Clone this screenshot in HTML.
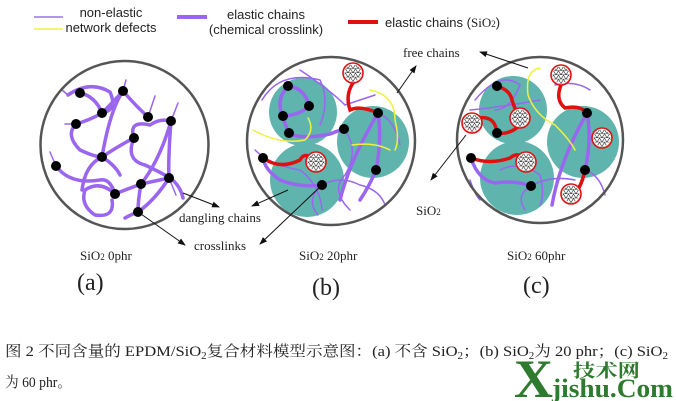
<!DOCTYPE html>
<html><head><meta charset="utf-8"><style>
html,body{margin:0;padding:0;background:#fff;}
svg{display:block;}
</style></head><body>
<svg width="676" height="401" viewBox="0 0 676 401" xmlns="http://www.w3.org/2000/svg">
<defs>
<marker id="ah" markerWidth="8" markerHeight="6" refX="7" refY="3" orient="auto" markerUnits="userSpaceOnUse"><path d="M0,0 L8,3 L0,6 z" fill="#111"/></marker>
<pattern id="tri" width="5" height="4.3" patternUnits="userSpaceOnUse"><path d="M0,4.3 L2.5,0 L5,4.3 M0,4.3 L5,4.3" stroke="#222" stroke-width="0.6" fill="none"/></pattern>
<g id="sil"><circle r="10" fill="#fff" stroke="#d11" stroke-width="1.6"/><circle r="8.5" fill="url(#tri)"/></g>
</defs>
<!-- legend -->
<g font-family="Liberation Sans, sans-serif" font-size="13" fill="#222">
<line x1="34" y1="17" x2="63" y2="17" stroke="#9a70ee" stroke-width="1.5"/>
<line x1="34" y1="29" x2="63" y2="29" stroke="#f0f040" stroke-width="1.5"/>
<text x="111" y="17" text-anchor="middle">non-elastic</text>
<text x="111" y="32" text-anchor="middle">network defects</text>
<line x1="177" y1="17" x2="207" y2="17" stroke="#9a66f0" stroke-width="4"/>
<text x="266" y="19" text-anchor="middle">elastic chains</text>
<text x="266" y="34" text-anchor="middle">(chemical crosslink)</text>
<line x1="348" y1="22" x2="378" y2="22" stroke="#e01010" stroke-width="4"/>
<text x="385" y="27">elastic chains (<tspan font-family="Liberation Serif, serif">SiO</tspan><tspan font-family="Liberation Serif, serif" font-size="9">2</tspan>)</text>
</g>
<!-- circle a -->
<g fill="none" stroke="#9a66f0" stroke-linecap="round">
<g stroke-width="3.5">
<path d="M68,95 Q90,80 110,92 Q118,110 102,113 Q90,120 76,124 Q65,135 80,150 Q95,157 102,157 Q120,145 134,138 Q128,120 150,125 Q160,118 171,121 Q160,160 141,184 Q125,190 115,194 Q100,180 85,190 Q80,205 95,215 Q115,218 112,200"/>
<path d="M56,166 Q70,185 100,180 Q110,178 115,194"/>
<path d="M80,93 Q95,96 102,113 Q115,100 123,91 Q135,105 148,117"/>
<path d="M123,91 Q110,110 102,157 Q85,165 82,190"/>
<path d="M171,121 Q168,160 169,178 Q155,200 138,212 Q130,215 125,218"/>
<path d="M141,184 Q138,200 138,212"/>
<path d="M141,184 Q160,180 169,178"/>
<path d="M134,138 Q125,160 145,165 Q160,172 170,178 Q180,185 183,198"/>
<path d="M102,157 Q115,165 120,175"/>
</g>
<g stroke-width="1.5"><path d="M68,95 L62,90 M123,91 L126,80 M148,117 L155,96 M171,121 L178,103 M56,166 L50,152 M76,124 L65,124 M169,178 L176,195"/></g>
</g>
<g fill="#000"><circle cx="80" cy="93" r="5"/><circle cx="123" cy="91" r="5"/><circle cx="102" cy="113" r="5"/><circle cx="76" cy="124" r="5"/><circle cx="148" cy="117" r="5"/><circle cx="171" cy="121" r="5"/><circle cx="134" cy="138" r="5"/><circle cx="102" cy="157" r="5"/><circle cx="56" cy="166" r="5"/><circle cx="169" cy="178" r="5"/><circle cx="141" cy="184" r="5"/><circle cx="115" cy="194" r="5"/><circle cx="138" cy="212" r="5"/></g>
<circle cx="124.5" cy="145" r="84" fill="none" stroke="#555" stroke-width="2.5"/>
<!-- circle b -->
<g fill="#5fb5ad"><circle cx="303" cy="112" r="34"/><circle cx="373" cy="142" r="36"/><circle cx="307" cy="180" r="37"/></g>
<g fill="none" stroke-linecap="round">
<g stroke="#9a66f0" stroke-width="3.5"><path d="M288,86 Q275,100 283,116 Q285,125 289,133 Q300,140 330,134 Q340,130 344,129"/><path d="M288,86 Q305,88 309,106 Q300,115 283,116"/><path d="M378,113 Q382,140 376,170 Q370,185 360,200"/><path d="M322,185 Q300,188 280,180 Q265,170 263,158"/><path d="M378,113 Q350,160 340,200"/></g>
<g stroke="#9a66f0" stroke-width="1.5"><path d="M262,100 Q280,70 320,80 Q330,100 320,125"/><path d="M255,150 Q270,165 300,170 Q320,185 322,210"/><path d="M344,129 Q360,150 345,175 Q330,190 350,210"/><path d="M322,185 Q340,175 360,185 Q380,190 385,205"/><path d="M300,70 Q330,90 345,105 Q360,100 375,95"/><path d="M322,185 Q305,200 318,215"/><path d="M378,113 Q395,120 400,145"/></g>
<g stroke="#f0f040" stroke-width="1.5"><path d="M253,130 Q280,145 305,140 Q315,130 308,118"/><path d="M370,90 Q395,95 395,120 Q400,140 395,150"/><path d="M352,145 Q375,142 390,150"/></g>
<g stroke="#e01010" stroke-width="3.5"><path d="M353,83 Q345,95 350,110 Q360,105 378,113"/><path d="M263,158 Q280,170 300,160 Q305,150 316,162"/></g>
</g>
<use href="#sil" x="353" y="73"/><use href="#sil" x="316" y="162"/>
<g fill="#000"><circle cx="288" cy="86" r="5"/><circle cx="309" cy="106" r="5"/><circle cx="283" cy="116" r="5"/><circle cx="289" cy="133" r="5"/><circle cx="344" cy="129" r="5"/><circle cx="378" cy="113" r="5"/><circle cx="263" cy="158" r="5"/><circle cx="376" cy="170" r="5"/><circle cx="322" cy="185" r="5"/></g>
<circle cx="331" cy="141" r="84" fill="none" stroke="#555" stroke-width="2.5"/>
<!-- circle c -->
<g fill="#5fb5ad"><circle cx="513" cy="110" r="34"/><circle cx="583" cy="142" r="36"/><circle cx="517" cy="178" r="37"/></g>
<g fill="none" stroke-linecap="round">
<g stroke="#9a66f0" stroke-width="3.5"><path d="M587,113 Q592,140 585,170"/><path d="M471,158 Q478,180 495,183 Q515,180 531,186"/><path d="M587,113 Q560,160 552,205"/></g>
<g stroke="#9a66f0" stroke-width="1.5"><path d="M475,100 Q500,70 520,85 Q510,110 495,110"/><path d="M470,110 Q495,108 540,100"/><path d="M531,186 Q515,195 525,210"/><path d="M531,186 Q550,175 575,180"/><path d="M500,170 Q520,160 540,175 Q545,195 540,205"/><path d="M555,85 Q575,80 590,90"/><path d="M585,170 Q600,175 605,195"/><path d="M470,180 Q475,195 480,200"/></g>
<g stroke="#f0f040" stroke-width="1.5"><path d="M540,68 Q525,70 528,95 Q535,115 555,125 Q570,140 575,150"/></g>
<g stroke="#e01010" stroke-width="3.5"><path d="M497,86 Q510,90 512,100 Q515,110 520,118"/><path d="M478,118 Q495,115 497,133 Q510,135 520,125"/><path d="M561,85 Q555,100 565,108 Q580,105 587,113"/><path d="M471,158 Q490,165 510,158 Q520,150 526,162"/><path d="M585,170 Q582,185 575,194"/></g>
</g>
<use href="#sil" x="561" y="75"/><use href="#sil" x="520" y="118"/><use href="#sil" x="472" y="123"/><use href="#sil" x="602" y="138"/><use href="#sil" x="526" y="162"/><use href="#sil" x="571" y="194"/>
<g fill="#000"><circle cx="497" cy="86" r="5"/><circle cx="497" cy="133" r="5"/><circle cx="587" cy="113" r="5"/><circle cx="471" cy="158" r="5"/><circle cx="585" cy="170" r="5"/><circle cx="531" cy="186" r="5"/></g>
<circle cx="540" cy="140" r="83" fill="none" stroke="#555" stroke-width="2.5"/>
<!-- arrows -->
<g stroke="#111" stroke-width="1" marker-end="url(#ah)">
<line x1="183" y1="193" x2="219" y2="207"/>
<line x1="288" y1="190" x2="252" y2="206"/>
<line x1="141" y1="214" x2="185" y2="245"/>
<line x1="322" y1="185" x2="260" y2="244"/>
<line x1="397" y1="93" x2="416" y2="66"/>
<line x1="528" y1="68" x2="480" y2="52"/>
<line x1="466" y1="135" x2="431" y2="180"/>
</g>
<g font-family="Liberation Serif, serif" font-size="13" fill="#222">
<text x="403" y="57">free chains</text>
<text x="179" y="222">dangling chains</text>
<text x="194" y="250">crosslinks</text>
<text x="416" y="215">SiO<tspan font-size="9">2</tspan></text>
<text x="80" y="260">SiO<tspan font-size="9">2</tspan>  0phr</text>
<text x="299" y="260">SiO<tspan font-size="9">2</tspan>  20phr</text>
<text x="507" y="260">SiO<tspan font-size="9">2</tspan>  60phr</text>
<text x="77" y="290" font-size="24">(a)</text>
<text x="312" y="295" font-size="24">(b)</text>
<text x="523" y="293" font-size="24">(c)</text>
</g>
<!-- caption -->
<g font-family="Liberation Serif, 'Noto Serif CJK SC', serif" font-size="15" fill="#222">
<text x="5" y="356" textLength="663" lengthAdjust="spacingAndGlyphs">图 2  不同含量的 EPDM/SiO<tspan font-size="10" dy="3">2</tspan><tspan dy="-3">复合材料模型示意图：(a)  不含 SiO</tspan><tspan font-size="10" dy="3">2</tspan><tspan dy="-3">；(b) SiO</tspan><tspan font-size="10" dy="3">2</tspan><tspan dy="-3">为 20 phr；(c) SiO</tspan><tspan font-size="10" dy="3">2</tspan></text>
<text x="5" y="387" textLength="66" lengthAdjust="spacingAndGlyphs">为 60 phr。</text>
</g>
<g font-family="Liberation Serif, 'Noto Serif CJK SC', serif" font-weight="bold" fill="#2e7a2e">
<text x="514" y="397" font-size="54">X</text>
<text x="573" y="377" font-size="18" textLength="67" lengthAdjust="spacingAndGlyphs">技术网</text>
<text x="552" y="397" font-size="26" textLength="121" lengthAdjust="spacingAndGlyphs">jishu.Com</text>
</g>
</svg>
</body></html>
